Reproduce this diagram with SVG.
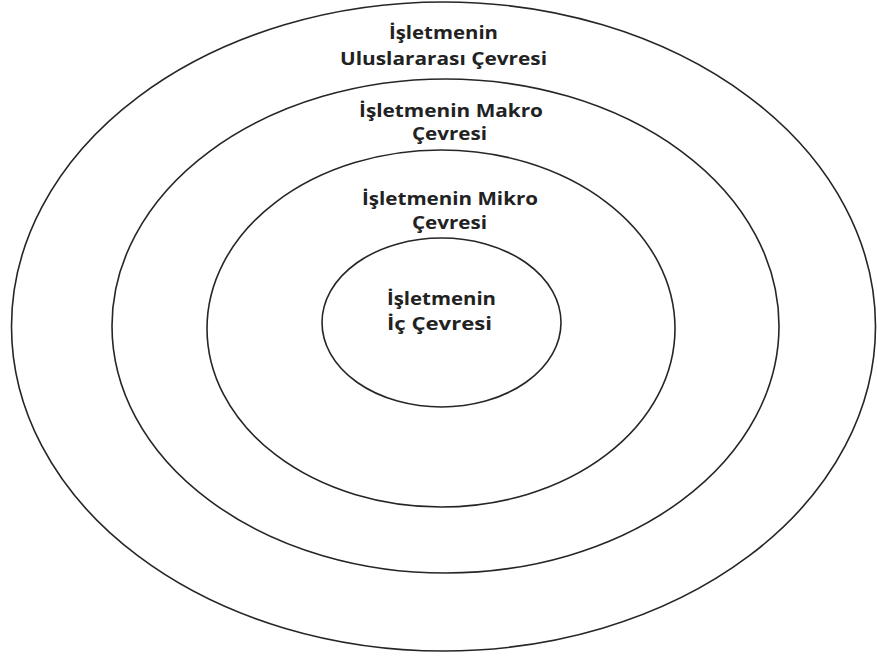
<svg xmlns="http://www.w3.org/2000/svg" width="877" height="657" viewBox="0 0 877 657">
  <style>
    .ring { fill: none; stroke: #262626; stroke-width: 1.6; }
    .lbl { font-family: "Open Sans", "Liberation Sans", sans-serif; font-weight: bold; font-size: 17px; fill: #222; text-anchor: middle; }
  </style>
  <rect width="877" height="657" fill="#ffffff"/>
  <g id="uluslararasi">
    <ellipse class="ring" cx="443.5" cy="326.5" rx="432" ry="324.5"/>
    <text class="lbl" x="443.5" y="39" textLength="109" lengthAdjust="spacingAndGlyphs">İşletmenin</text>
    <text class="lbl" x="443.5" y="65" textLength="207" lengthAdjust="spacingAndGlyphs">Uluslararası Çevresi</text>
  </g>
  <g id="makro">
    <ellipse class="ring" cx="445.5" cy="326" rx="333.5" ry="247"/>
    <text class="lbl" x="451" y="117" textLength="184" lengthAdjust="spacingAndGlyphs">İşletmenin Makro</text>
    <text class="lbl" x="449.5" y="140" textLength="75" lengthAdjust="spacingAndGlyphs">Çevresi</text>
  </g>
  <g id="mikro">
    <ellipse class="ring" cx="441" cy="328.5" rx="234" ry="178.5"/>
    <text class="lbl" x="450" y="205" textLength="176" lengthAdjust="spacingAndGlyphs">İşletmenin Mikro</text>
    <text class="lbl" x="449.5" y="229" textLength="75" lengthAdjust="spacingAndGlyphs">Çevresi</text>
  </g>
  <g id="ic">
    <ellipse class="ring" cx="441.5" cy="322.5" rx="119.5" ry="84.5"/>
    <text class="lbl" x="441.5" y="305" textLength="109" lengthAdjust="spacingAndGlyphs">İşletmenin</text>
    <text class="lbl" x="439.5" y="330" textLength="105" lengthAdjust="spacingAndGlyphs">İç Çevresi</text>
  </g>
</svg>
